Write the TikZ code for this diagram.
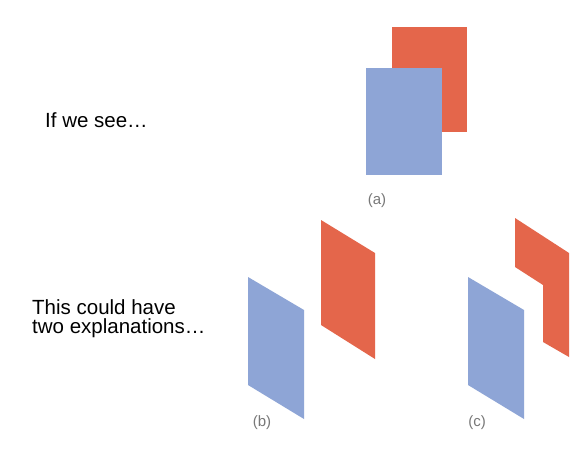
\documentclass[tikz,border=0pt]{standalone}
\usepackage{fontspec}
\setmainfont{Liberation Sans}
\definecolor{panelblue}{RGB}{142,165,214}
\definecolor{panelred}{RGB}{228,102,75}
\definecolor{captiongray}{RGB}{120,120,120}
\begin{document}
\begin{tikzpicture}[x=1pt, y=-1pt,
		bluepanel/.style={fill=panelblue, draw=none},
		redpanel/.style={fill=panelred, draw=none},
		caption/.style={text=captiongray, font=\fontsize{15}{15}\selectfont, inner sep=0pt},
		lefttext/.style={font=\fontsize{20.5}{20.5}\selectfont, inner sep=0pt, anchor=base west}]
	\useasboundingbox [fill=white] (0,0) rectangle (585,450);

	% (a) seen
	\fill [redpanel] (392,27) rectangle (467,132);
	\fill [bluepanel] (366,68) rectangle (442,175);
	\node [caption] (caption-a) at (377,201) {(a)};

	% (b) and (c) share the slanted blue panel
	\foreach \l/\dx in {b/0, c/220} {
		\fill [bluepanel] (248+\dx,277) -- (304+\dx,310) -- (304+\dx,419) -- (248+\dx,385) -- cycle;
		\node [caption] (caption-\l) at (262+\dx-5*\dx/220,423) {(\l)};
	}

	% (b) flat red panel
	\fill [redpanel] (321,220) -- (375,253) -- (375,359) -- (321,325) -- cycle;

	% (c) bent red panel
	\fill [redpanel] (515,218) -- (569,253) -- (569,357) -- (543,342)
		-- (543,285) -- (515,267) -- cycle;

	\node [lefttext] (seen) at (45,127) {If we see…};
	\foreach \t [count=\i] in {This could have, two explanations…}
		\node [lefttext] (explain-\i) at (32,295+\i*19) {\t};

\end{tikzpicture}
\end{document}
